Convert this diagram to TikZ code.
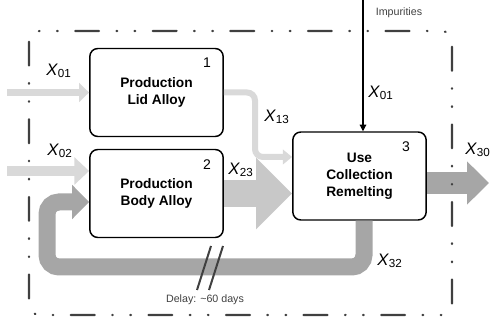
\documentclass[tikz,border=0pt]{standalone}
\usepackage{fontspec}
\setmainfont{Liberation Sans}
\usetikzlibrary{arrows.meta}

\definecolor{lightflow}{HTML}{D9D9D9}
\definecolor{midflow}{HTML}{C8C8C8}
\definecolor{darkflow}{HTML}{A6A6A6}
\definecolor{framegray}{HTML}{404040}

\newcommand{\flowlabel}[1]{\textit{X}\textsubscript{#1}}

\tikzset{
  process/.style={draw, line width=1.1pt, rounded corners=6pt, fill=white, align=center,
    minimum width=100pt, minimum height=66pt, inner sep=0pt,
    font=\fontsize{10.3}{12.8}\selectfont\bfseries},
  boxnum/.style={font=\fontsize{10.5}{12}\selectfont},
  flowtag/.style={font=\fontsize{12.5}{14}\selectfont, inner sep=1pt},
  smalltag/.style={font=\fontsize{8}{9}\selectfont, text=framegray, inner sep=1pt},
}

\begin{document}
\begin{tikzpicture}[x=0.75pt, y=-0.75pt]
\useasboundingbox (0,0) rectangle (490,323);

% processes
\node[process] (b1) at (156.5,92.5) {Production\\Lid Alloy};
\node[process] (b2) at (156.5,193.5) {Production\\Body Alloy};
\node[process] (b3) at (359.5,176) {Use\\Collection\\Remelting};

\node[boxnum] (num1) at (207,63) {1};
\node[boxnum] (num2) at (207,165) {2};
\node[boxnum] (num3) at (406,147) {3};

% flow end points
\coordinate (in1) at (7,92.5);
\coordinate (in2) at (7,171);
\coordinate (imp) at (363,0);
\coordinate (bend13) at (255,157);
\coordinate (out3) at (489,183);
\coordinate (loopdown) at (364,267);
\coordinate (loopleft) at (47,267);
\coordinate (loopin) at (47,202);
\coordinate (gap) at (210,268);

% flows
\draw[lightflow, line width=5.25pt, -{Triangle[length=7.5pt, width=14pt]}] (in1) -- (b1.west);
\draw[lightflow, line width=7.5pt, -{Triangle[length=11pt, width=20pt]}] (in2) -- (b2.west |- in2);
\draw[lightflow, line width=4.5pt, rounded corners=6pt, -{Triangle[length=7pt, width=11pt]}] (b1.east) -| (bend13) -- (bend13 -| b3.west);
\draw[midflow, line width=20pt, -{Triangle[length=27pt, width=52pt]}] (b2.east) -- (b2.east -| b3.west);
\draw[darkflow, line width=17pt, -{Triangle[length=16.5pt, width=31.5pt]}] (b3.east |- out3) -- (out3);
\draw[darkflow, line width=12.75pt, rounded corners=9pt, -{Triangle[length=12.75pt, width=25pt]}] (b3.south -| loopdown) -- (loopdown) -- (loopleft) -- (loopin) -- (b2.west |- loopin);
\draw[line width=0.8pt, -{Triangle[length=5pt, width=5pt]}] (imp) -- (imp |- b3.north);

% delay mark
\draw[framegray, line width=1.5pt] ([shift={(-13,22)}]gap) -- ++(14,-44);
\draw[framegray, line width=1.5pt] ([shift={(-1,22)}]gap) -- ++(14,-44);

% labels
\node[flowtag] (x01a) at (59,71) {\flowlabel{01}};
\node[flowtag] (x02) at (60,151) {\flowlabel{02}};
\node[flowtag] (x13) at (277,117) {\flowlabel{13}};
\node[flowtag] (x01b) at (381,93) {\flowlabel{01}};
\node[flowtag, fill=white] (x23) at (241,170) {\flowlabel{23}};
\node[flowtag] (x30) at (478,150) {\flowlabel{30}};
\node[flowtag] (x32) at (390,261) {\flowlabel{32}};
\node[smalltag] (impurities) at (399,13) {Impurities};
\node[smalltag] (delay) at (205,300) {Delay: \textasciitilde60 days};

% system boundary
\draw[framegray, line width=1.6pt, line cap=round, rounded corners=8pt,
  dash pattern=on 18pt off 13pt on 0.6pt off 13pt on 0.6pt off 13pt]
  (29,31) rectangle (452,315);
\end{tikzpicture}
\end{document}
